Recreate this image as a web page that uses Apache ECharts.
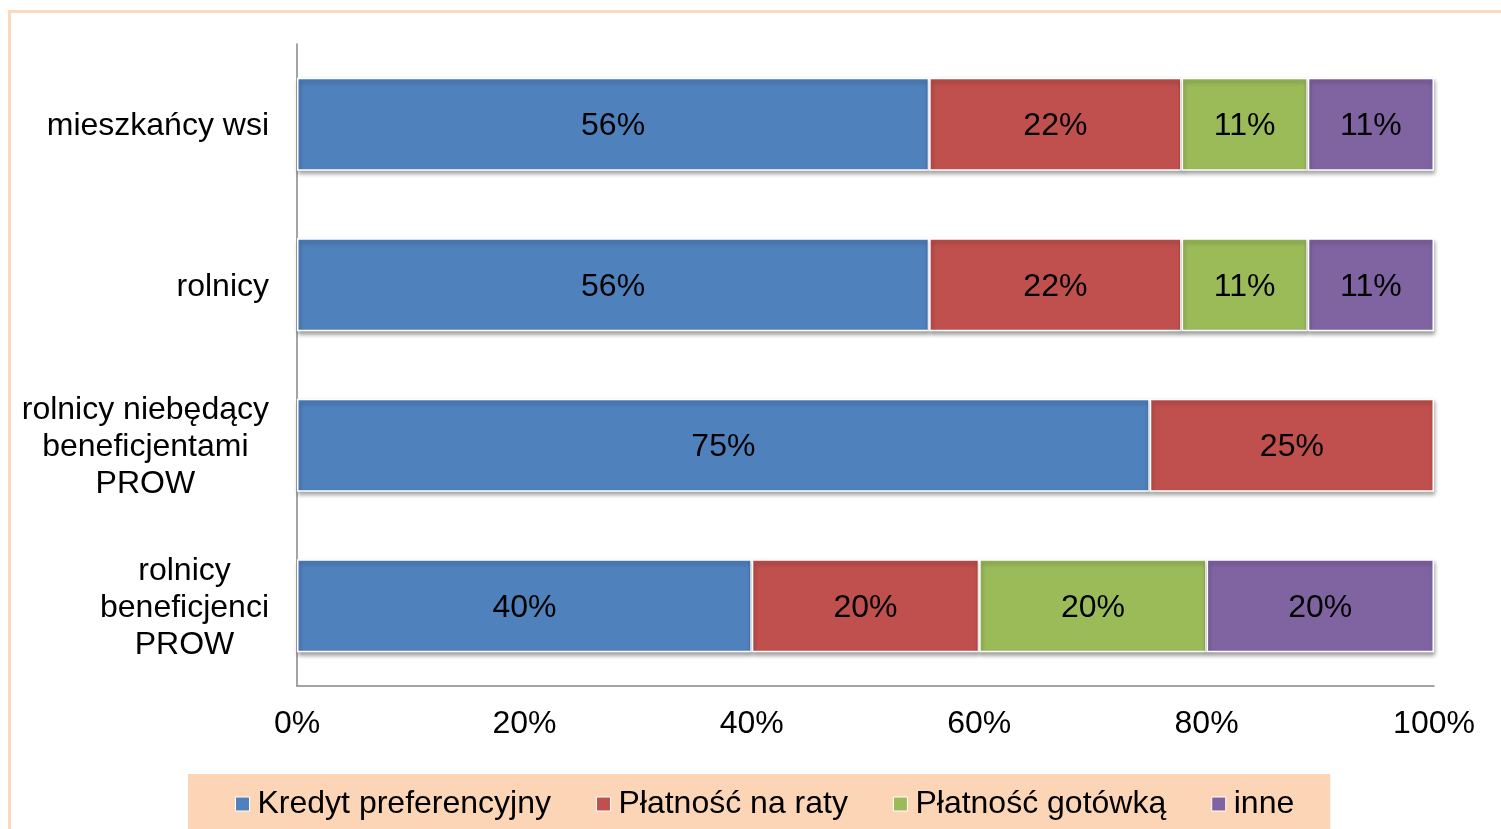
<!DOCTYPE html>
<html>
<head>
<meta charset="utf-8">
<script src="https://cdn.jsdelivr.net/npm/echarts@6/dist/echarts.min.js"></script>
<style>
html,body{margin:0;padding:0;background:#fff;}
#chart{width:1501px;height:829px;}
</style>
</head>
<body>
<div id="chart"></div>
<script>
const categories = ['mieszkańcy wsi', 'rolnicy', 'rolnicy niebędący\nbeneficjentami\nPROW', 'rolnicy\nbeneficjenci\nPROW'];
const seriesNames = ['Kredyt preferencyjny', 'Płatność na raty', 'Płatność gotówką', 'inne'];
const kredyt = [55.6, 55.6, 75, 40];
const raty = [22.2, 22.2, 25, 20];
const gotowka = [11.1, 11.1, 0, 20];
const inne = [11.1, 11.1, 0, 20];
const xTicks = [0, 20, 40, 60, 80, 100];
const colors = ['#4F81BD', '#C0504D', '#9BBB59', '#8064A2'];

const FONT = '"Liberation Sans", Arial, sans-serif';
const FS = 32;
const chart = echarts.init(document.getElementById('chart'), null, {renderer: 'canvas'});
const values = [kredyt, raty, gotowka, inne];

const series = seriesNames.map((name, i) => ({
  name: name,
  type: 'bar',
  stack: 'total',
  barCategoryGap: '42%',
  data: values[i].map(v => v === 0 ? null : v),
  itemStyle: {
    color: colors[i],
    borderColor: '#ffffff',
    borderWidth: 1.5,
    shadowColor: 'rgba(0,0,0,0.35)',
    shadowBlur: 4,
    shadowOffsetY: 3,
    shadowOffsetX: 1
  },
  label: {
    show: true,
    position: 'inside',
    offset: [0, 2],
    color: '#000',
    fontFamily: FONT,
    fontSize: FS,
    formatter: p => Math.round(p.value) + '%'
  },
  emphasis: {disabled: true}
}));

chart.setOption({
  animation: false,
  backgroundColor: '#ffffff',
  grid: {left: 297, right: 67, top: 44, bottom: 143, containLabel: false},
  graphic: [{
    type: 'rect',
    z: -10,
    shape: {x: 9.5, y: 11.5, width: 1600, height: 900},
    style: {fill: 'none', stroke: '#FCD9BC', lineWidth: 3}
  }],
  legend: {
    left: 188,
    top: 774,
    padding: [14, 36, 30, 47],
    backgroundColor: '#FBD5B5',
    itemGap: 45,
    itemWidth: 14,
    itemHeight: 14,
    icon: 'rect',
    itemStyle: {borderColor: '#ffffff', borderWidth: 1},
    textStyle: {fontFamily: FONT, fontSize: FS, color: '#000', padding: [0, 0, 0, 3]},
    data: seriesNames
  },
  xAxis: {
    type: 'value',
    min: 0,
    max: 100,
    interval: 20,
    axisLine: {show: true, lineStyle: {color: '#868686', width: 1.5}},
    axisTick: {show: false},
    splitLine: {show: false},
    axisLabel: {
      margin: 22,
      fontFamily: FONT,
      fontSize: FS,
      color: '#000',
      formatter: v => xTicks.includes(v) ? v + '%' : ''
    }
  },
  yAxis: {
    type: 'category',
    inverse: true,
    data: categories,
    axisLine: {show: true, lineStyle: {color: '#868686', width: 1.5}},
    axisTick: {show: false},
    axisLabel: {
      margin: 28,
      color: '#000',
      fontFamily: FONT,
      fontSize: FS,
      lineHeight: 37,
      formatter: v => v.split('\n').map(l => '{a|' + l + '}').join('\n'),
      rich: {a: {align: 'center', fontFamily: FONT, fontSize: FS, lineHeight: 37, color: '#000', padding: [4, 0, 0, 0]}}
    }
  },
  series: series
});
</script>
</body>
</html>
